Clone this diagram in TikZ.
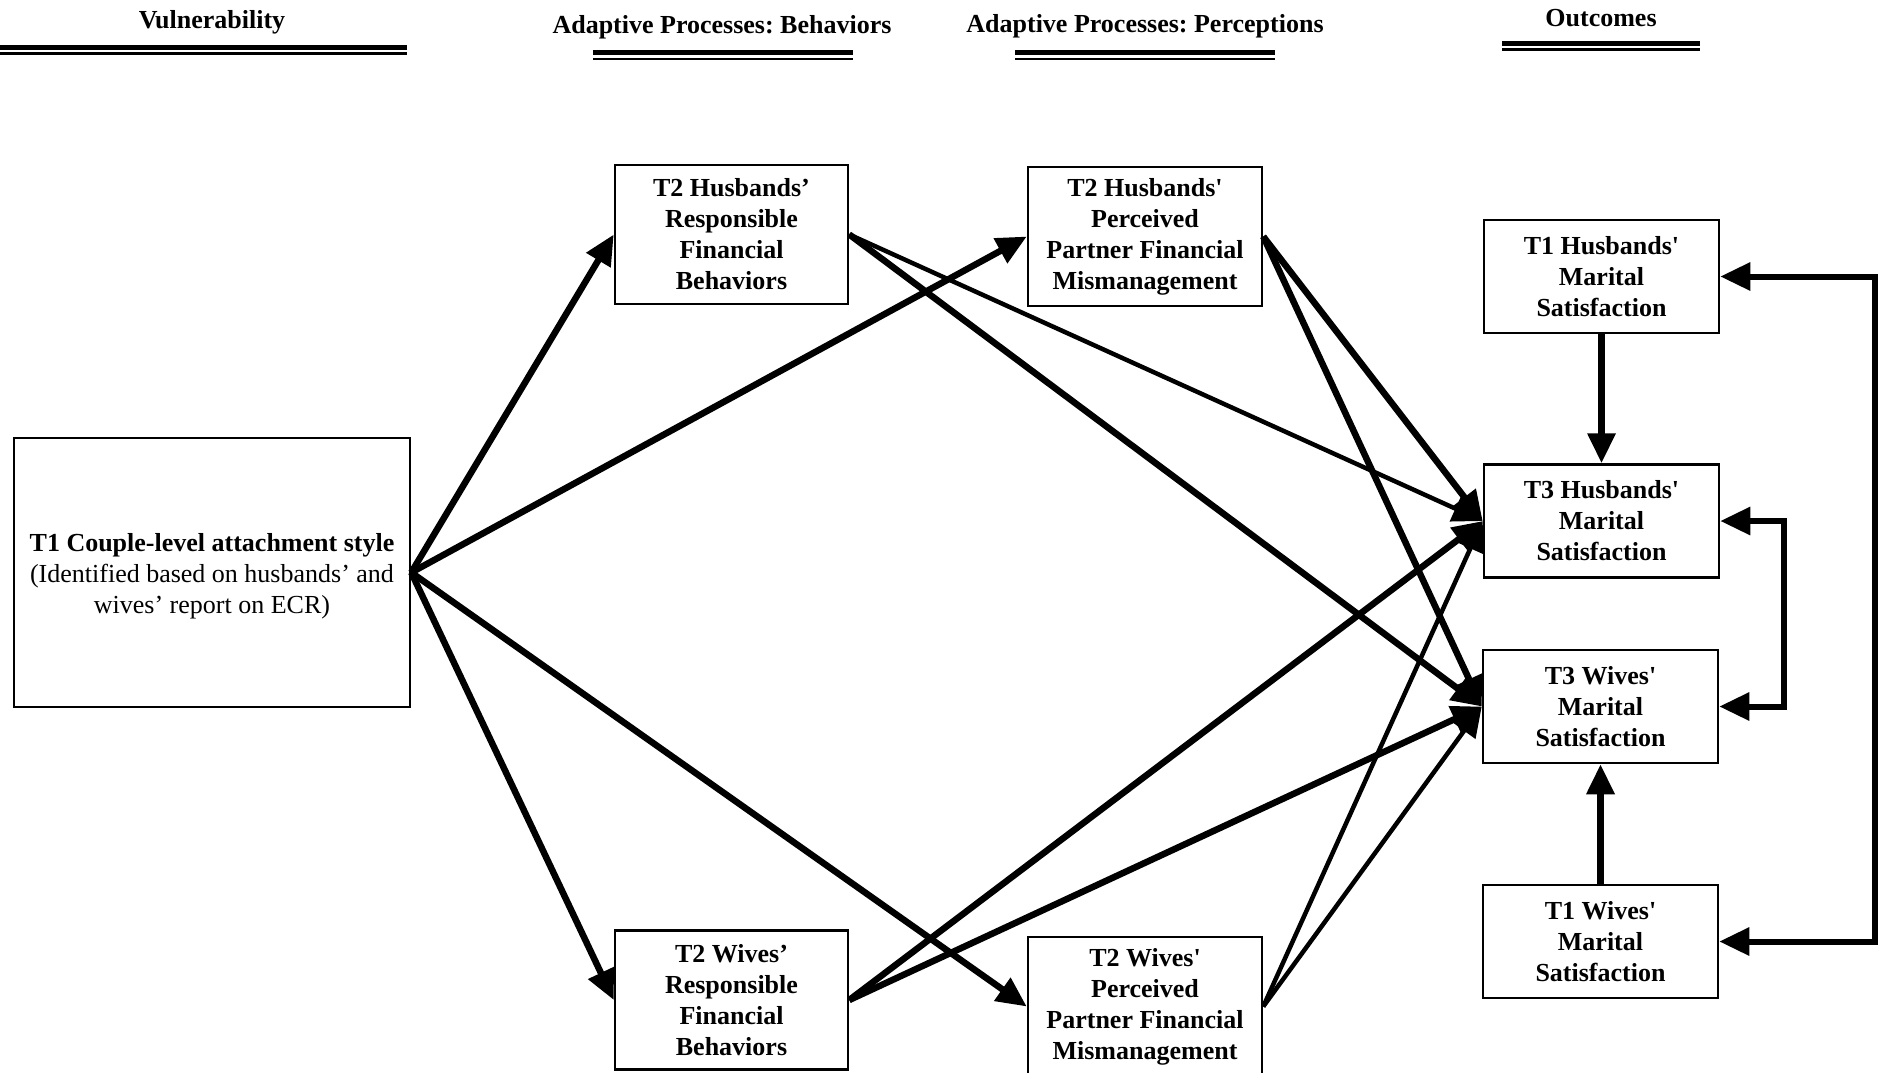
\documentclass[tikz,border=0pt]{standalone}
\usepackage{fontspec}
\setmainfont{Liberation Serif}[Ligatures=TeXOff]
\usetikzlibrary{arrows.meta}
\frenchspacing
\begin{document}
\begin{tikzpicture}[x=1pt,y=-1pt,
  box/.style={draw, line width=2.5pt, align=center, inner sep=0pt, font=\fontsize{26}{31}\selectfont\bfseries},
  titlenode/.style={font=\fontsize{26}{31}\selectfont\bfseries, inner sep=0pt},
  thickrule/.style={line width=5pt},
  thinrule/.style={line width=2.5pt},
  arr/.style={line width=6.5pt, line join=miter, -{Triangle[length=30pt,width=27pt]}},
  arrthin/.style={line width=4.5pt, line join=miter, -{Triangle[length=30pt,width=27pt]}},
  darr/.style={line width=6pt, line join=miter, {Triangle[length=30pt,width=27pt]}-{Triangle[length=30pt,width=27pt]}}
]
\useasboundingbox[fill=white] (0,0) rectangle (1879,1072);

% headings
\node[titlenode] (tvul) at (212,22.5) {Vulnerability};
\draw[thickrule] (0,47) -- (407,47);
\draw[thinrule] (0,53.5) -- (407,53.5);
\node[titlenode] (tbeh) at (722,27.5) {Adaptive Processes: Behaviors};
\draw[thickrule] (593,52.5) -- (853,52.5);
\draw[thinrule] (593,59) -- (853,59);
\node[titlenode] (tper) at (1145,26.5) {Adaptive Processes: Perceptions};
\draw[thickrule] (1015,52.5) -- (1275,52.5);
\draw[thinrule] (1015,59) -- (1275,59);
\node[titlenode] (tout) at (1601,18) {Outcomes};
\draw[thickrule] (1502,43) -- (1700,43);
\draw[thinrule] (1502,49.5) -- (1700,49.5);

% boxes
\node[box, minimum width=396pt, minimum height=269pt] (couple) at (212,572.5) {};
\node[align=center, inner sep=0pt, font=\fontsize{26}{31}\selectfont] (coupletxt) at (212,576)
  {\textbf{T1 Couple-level attachment style}\\(Identified based on husbands’ and\\wives’ report on ECR)};
\node[box, minimum width=233pt, minimum height=139pt] (hrb) at (731.5,234.5)
  {T2 Husbands’\\Responsible\\Financial\\Behaviors};
\node[box, minimum width=234pt, minimum height=139pt] (hpp) at (1145,236.5)
  {T2 Husbands'\\Perceived\\Partner Financial\\Mismanagement};
\node[box, minimum width=233pt, minimum height=139pt] (wrb) at (731.5,1000)
  {T2 Wives’\\Responsible\\Financial\\Behaviors};
\node[box, minimum width=234pt, minimum height=139pt] (wpp) at (1145,1006.5)
  {T2 Wives'\\Perceived\\Partner Financial\\Mismanagement};
\node[box, minimum width=235pt, minimum height=113pt] (t1h) at (1601.5,276.5)
  {T1 Husbands'\\Marital\\Satisfaction};
\node[box, minimum width=235pt, minimum height=113pt] (t3h) at (1601.5,521)
  {T3 Husbands'\\Marital\\Satisfaction};
\node[box, minimum width=235pt, minimum height=113pt] (t3w) at (1600.5,706.5)
  {T3 Wives'\\Marital\\Satisfaction};
\node[box, minimum width=235pt, minimum height=113pt] (t1w) at (1600.5,941.5)
  {T1 Wives'\\Marital\\Satisfaction};

% arrows from couple
\draw[arr] (couple.east) -- (hrb.west);
\draw[arr] (couple.east) -- (hpp.west);
\draw[arr] (couple.east) -- (wrb.west);
\draw[arr] (couple.east) -- (wpp.west);

% arrows to outcomes
\draw[arrthin] (hrb.east) -- (t3h.west);
\draw[arr] (hrb.east) -- (t3w.west);
\draw[arr] (hpp.east) -- (t3h.west);
\draw[arr] (hpp.east) -- (t3w.west);
\draw[arr] (wrb.east) -- (t3h.west);
\draw[arr] (wrb.east) -- (t3w.west);
\draw[arrthin] (wpp.east) -- (t3h.west);
\draw[arrthin] (wpp.east) -- (t3w.west);

% stability paths
\draw[arr] (t1h.south) -- (t3h.north);
\draw[arr] (t1w.north) -- (t3w.south);

% correlations
\coordinate (outA) at (1875,276.5);
\coordinate (outB) at (1875,941.5);
\coordinate (inA) at (1784,521);
\coordinate (inB) at (1784,706.5);
\draw[darr] (t1h.east) -- (outA) -- (outB) -- (t1w.east);
\draw[darr] (t3h.east) -- (inA) -- (inB) -- (t3w.east);
\end{tikzpicture}
\end{document}
